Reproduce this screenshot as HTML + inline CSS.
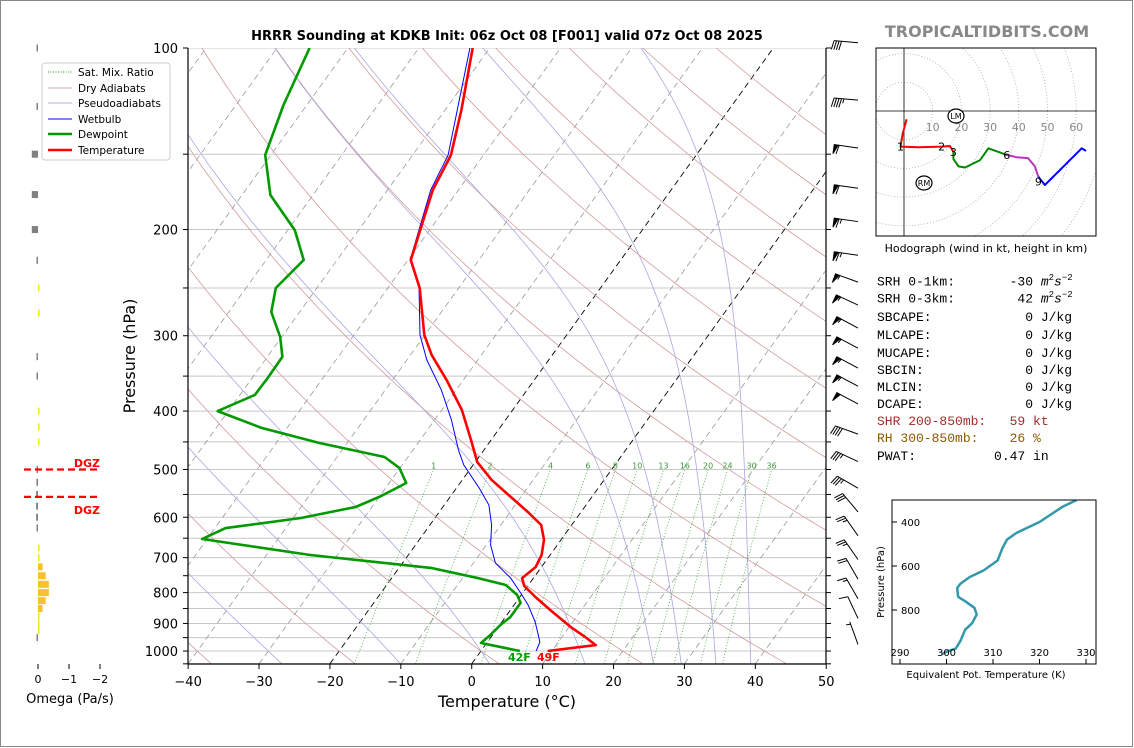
<!DOCTYPE html>
<html><head><meta charset="utf-8"><style>
body{margin:0;background:#fff;}
#fig{position:relative;width:1134px;height:748px;overflow:hidden;background:#fff;font-family:"DejaVu Sans","Liberation Sans",sans-serif;}
.t{position:absolute;white-space:pre;font-family:"Liberation Mono","DejaVu Sans Mono",monospace;font-size:13px;color:#000;}
</style></head><body>
<div id="fig">
<svg id="svg" width="1134" height="748" xmlns="http://www.w3.org/2000/svg" style="position:absolute;left:0;top:0">
<rect x="0.5" y="0.5" width="1132" height="746" fill="none" stroke="#888" stroke-width="1"/>
<defs><clipPath id="cp"><rect x="188" y="48" width="638" height="616"/></clipPath>
<clipPath id="hc"><rect x="876" y="48" width="220" height="188"/></clipPath>
<clipPath id="tc"><rect x="892" y="500" width="204" height="164"/></clipPath></defs>
<g id="bg" clip-path="url(#cp)"></g>
<g id="prof" clip-path="url(#cp)"></g>
<g id="axes"></g>
<g id="barbs"></g>
<g id="omega"></g>
<g id="hodo"></g>
<g id="the"></g>
<text x="507" y="40" text-anchor="middle" font-size="13" font-weight="bold">HRRR Sounding at KDKB Init: 06z Oct 08 [F001] valid 07z Oct 08 2025</text>
<text x="987" y="37" text-anchor="middle" font-size="16" font-weight="bold" fill="#888">TROPICALTIDBITS.COM</text>
<text x="507" y="707" text-anchor="middle" font-size="16">Temperature (°C)</text>
<text transform="translate(135,356) rotate(-90)" text-anchor="middle" font-size="16">Pressure (hPa)</text>
<text x="70" y="703" text-anchor="middle" font-size="13">Omega (Pa/s)</text>
<text x="986" y="252" text-anchor="middle" font-size="11">Hodograph (wind in kt, height in km)</text>
<text x="986" y="678" text-anchor="middle" font-size="10">Equivalent Pot. Temperature (K)</text>
<text transform="translate(884,582) rotate(-90)" text-anchor="middle" font-size="10">Pressure (hPa)</text>
<text x="508" y="661" font-size="11" font-weight="bold" fill="#00a000">42F</text>
<text x="537" y="661" font-size="11" font-weight="bold" fill="#ff0000">49F</text>
<g>
<rect x="42" y="63" width="128" height="97" rx="3" fill="#fff" stroke="#ccc"/>
<line x1="48" y1="72" x2="72" y2="72" stroke="#2ca02c" stroke-dasharray="1,1.5"/>
<text x="78" y="76" font-size="10.5">Sat. Mix. Ratio</text>
<line x1="48" y1="88" x2="72" y2="88" stroke="#d9a8a8"/>
<text x="78" y="92" font-size="10.5">Dry Adiabats</text>
<line x1="48" y1="103" x2="72" y2="103" stroke="#b0b0e8"/>
<text x="78" y="107" font-size="10.5">Pseudoadiabats</text>
<line x1="48" y1="119" x2="72" y2="119" stroke="#0000ff"/>
<text x="78" y="123" font-size="10.5">Wetbulb</text>
<line x1="48" y1="134" x2="72" y2="134" stroke="#009900" stroke-width="2.5"/>
<text x="78" y="138" font-size="10.5">Dewpoint</text>
<line x1="48" y1="150" x2="72" y2="150" stroke="#ff0000" stroke-width="2.5"/>
<text x="78" y="154" font-size="10.5">Temperature</text>
</g>
</svg>
<div class="t" style="left:877px;top:273px">SRH 0-1km:       -30 <i>m</i><sup style="font-size:9px">2</sup><i>s</i><sup style="font-size:9px">−2</sup></div>
<div class="t" style="left:877px;top:290px">SRH 0-3km:        42 <i>m</i><sup style="font-size:9px">2</sup><i>s</i><sup style="font-size:9px">−2</sup></div>
<div class="t" style="left:877px;top:310px">SBCAPE:            0 J/kg</div>
<div class="t" style="left:877px;top:328px">MLCAPE:            0 J/kg</div>
<div class="t" style="left:877px;top:346px">MUCAPE:            0 J/kg</div>
<div class="t" style="left:877px;top:363px">SBCIN:             0 J/kg</div>
<div class="t" style="left:877px;top:380px">MLCIN:             0 J/kg</div>
<div class="t" style="left:877px;top:397px">DCAPE:             0 J/kg</div>
<div class="t" style="left:877px;top:414px;color:#a52a2a">SHR 200-850mb:   59 kt</div>
<div class="t" style="left:877px;top:431px;color:#8b5a00">RH 300-850mb:    26 %</div>
<div class="t" style="left:877px;top:449px">PWAT:          0.47 in</div>
</div>
<script>
// ---- data ----
const tempP=[100,126.7,150.5,172,224.7,250,299,323,355,398,447,486,520,555.5,588,618,654,693,725.6,757,780,813.5,855,912,948,977.5,1000];
const tempC=[-62.4,-57.7,-54.6,-53.6,-49.6,-45.5,-40.1,-37.0,-32.4,-27.2,-22.8,-19.7,-15.9,-11.4,-7.5,-4.3,-2.4,-1.2,-0.8,-1.6,-0.5,2.2,5.6,10.2,13.3,15.6,9.4];
const dewP=[100,124.3,150.5,175.3,200.4,224.7,250,274,301.5,325,352.6,376,400,426.6,451.8,476.7,497,526.4,553,577,601.7,625.3,651.9,693,728,757,777,807,832,878,905.3,940.6,969.8,1000];
const dewC=[-85.4,-83.3,-80.8,-76,-69,-64.7,-65.8,-64,-60.2,-57.9,-57.8,-57.9,-61.5,-53.6,-43.9,-33.3,-30.1,-27.6,-29.8,-32.3,-38.9,-48.5,-50.7,-33.8,-15.5,-7.8,-3.2,-0.6,0.7,0.7,0.1,-0.3,-0.8,5.5];
const wbP=[100,150.5,172,224.7,250,299,329,369,414,464,491.5,536.6,572.6,618,667,714.5,757,801,839,895,966,1000];
const wbC=[-62.8,-55,-53.9,-49.7,-45.6,-40.7,-37.2,-32.1,-27.6,-23.6,-21.3,-16.8,-13.7,-11.3,-9.4,-6.9,-3.2,-0.3,2.0,4.7,7.4,7.8];
const mixRatios=[1,2,4,6,8,10,13,16,20,24,30,36];
const dryT0=[-40,-20,0,20,40,60,80,100,120,140,160,180,200];
const moistT0=[-30,-13,0,14,24,28,33,38];
const barbP=[98,122,146.5,170.8,194,220.6,244.5,266.9,291.3,314.6,339.4,363.8,389.3,436.8,485,537,588,644,705,760,819,883,975];
const barbSpd=[40,45,60,60,65,65,55,55,55,55,55,55,50,40,35,35,30,25,25,20,15,10,5];
const barbDir=[275,275,278,278,278,278,290,295,298,298,298,298,298,290,295,300,320,325,325,330,330,335,340];
const omegaP=[100,125,150,175,200,225,250,275,325,350,400,425,450,500,525,550,575,600,625,675,700,725,750,775,800,825,850,875,900,925,950];
const omegaV=[0.02,0.02,0.2,0.2,0.2,0.04,-0.03,-0.05,0.03,0.03,-0.02,-0.02,-0.01,0.03,0.05,0.06,0.06,0.06,0.02,-0.01,-0.02,-0.15,-0.25,-0.35,-0.35,-0.25,-0.15,-0.03,-0.02,-0.01,0.01];
const hodoSegColors=['#ff0000','#008800','#bb33bb','#0000ff'];
const hodoU=[[0.9,-0.5,-1.2,5,13.1,16,17.2],[17.2,17.2,19,21.3,26.5,29.4,35.8],[35.8,39.2,43.2,45.6,46.8],[46.8,49.1,61.9,63.4]];
const hodoV=[[-2.9,-8,-12.4,-12.6,-12.4,-12.2,-14.2],[-14.2,-16.7,-19.3,-19.7,-17.1,-13,-15.3],[-15.3,-16.1,-16.4,-19.3,-22.9],[-22.9,-25.8,-13,-13.9]];
const hodoLblU=[-1.2,13.1,17.2,35.8,46.8];
const hodoLblV=[-12.4,-12.4,-14.2,-15.3,-24.5];
const hodoLbls=['1','2','3','6','9'];
const thetaP=[300,330,400,450,480,520,575,620,650,680,700,740,760,790,820,860,890,940,975,990,1000];
const thetaK=[328,325,320,315,313,312,311,308,305,303,302.3,302.5,304,306,306.5,305.5,304,303,302,300,299];
const tempTicks=[-40,-30,-20,-10,0,10,20,30,40,50];
const presTicks=[100,200,300,400,500,600,700,800,900,1000];

// ---- helpers ----
const NS='http://www.w3.org/2000/svg';
function mk(parent,tag,attrs){const e=document.createElementNS(NS,tag);for(const k in attrs)e.setAttribute(k,attrs[k]);parent.appendChild(e);return e;}
const yP=p=>48+261.9*Math.log(p/100);
const xT=(T,p)=>188+(T+40)*7.09+(664-yP(p))*0.72;
function pathOf(ps,ts){return ps.map((p,i)=>(i?'L':'M')+xT(ts[i],p).toFixed(1)+' '+yP(p).toFixed(1)).join(' ');}
const bg=document.getElementById('bg'),prof=document.getElementById('prof'),ax=document.getElementById('axes');

// isobars
for(let p=100;p<=1050;p+=50){const l=mk(bg,'line',{x1:188,x2:826,y1:yP(p),y2:yP(p),stroke:'#c8c8c8','stroke-width':1});

}
// isotherms
for(let T=-120;T<=50;T+=10){const l=mk(bg,'line',{x1:xT(T,1050),y1:yP(1050),x2:xT(T,100),y2:yP(100),stroke:(T==0||T==-20)?'#000':'#999','stroke-width':(T==0||T==-20)?0.9:0.8,'stroke-dasharray':'6,4'});

}
// dry adiabats
dryT0.forEach(t0=>{const th=t0+273.15;let d='';for(let p=1050;p>=100;p-=10){const T=th*Math.pow(p/1000,0.2857)-273.15;d+=(p==1050?'M':'L')+xT(T,p).toFixed(1)+' '+yP(p).toFixed(1);}
const l=mk(bg,'path',{d:d,fill:'none',stroke:'#d49a9a','stroke-width':0.8});

});
// moist adiabats
function es(Tc){return 6.112*Math.exp(17.67*Tc/(Tc+243.5));}
function dTdp(T,p){const e=es(T-273.15);const rs=0.622*e/(p-e);return (287*T+2.5e6*rs)/(1005+2.5e6*2.5e6*rs*0.622/(287*T*T))/p;}
moistT0.forEach(t0=>{let pts=[];let T=t0+273.15;
 let Td=T;for(let p=1000;p<1050;p+=5){Td+=dTdp(Td,p)*5;}
 T=Td;for(let p=1050;p>=100;p-=5){pts.push(xT(T-273.15,p).toFixed(1)+' '+yP(p).toFixed(1));const k1=dTdp(T,p);const k2=dTdp(T-k1*2.5,p-2.5);T-=k2*5;}
 const l=mk(bg,'path',{d:'M'+pts.join(' L'),fill:'none',stroke:'#a8a8e4','stroke-width':0.8});
 
 });
// mixing ratio
function tdFromW(w,p){const e=w*p/(622+w);const a=Math.log(e/6.112);return 243.5*a/(17.67-a);}
mixRatios.forEach(w=>{let d='';for(let p=1050;p>=500;p-=10){d+=(p==1050?'M':'L')+xT(tdFromW(w,p),p).toFixed(1)+' '+yP(p).toFixed(1);}
 const l=mk(bg,'path',{d:d,fill:'none',stroke:'#2ca02c','stroke-width':0.8,'stroke-dasharray':'1,2',opacity:0.9});
 
 
 const t=mk(bg,'text',{x:xT(tdFromW(w,500),500),y:yP(500)-1,'font-size':8,fill:'#3a9a3a','text-anchor':'middle'});t.textContent=w;
 
 });
// profiles
let e;
e=mk(prof,'path',{d:pathOf(wbP,wbC),fill:'none',stroke:'#0000ff','stroke-width':1});


e=mk(prof,'path',{d:pathOf(dewP,dewC),fill:'none',stroke:'#009900','stroke-width':2.6,'stroke-linejoin':'round'});


e=mk(prof,'path',{d:pathOf(tempP,tempC),fill:'none',stroke:'#ff0000','stroke-width':2.6,'stroke-linejoin':'round'});


// axes frame
e=mk(ax,'line',{x1:188,y1:48,x2:188,y2:664,stroke:'#000','stroke-width':1.2});


e=mk(ax,'line',{x1:826,y1:48,x2:826,y2:664,stroke:'#000','stroke-width':1.2});


e=mk(ax,'line',{x1:188,y1:664,x2:826,y2:664,stroke:'#000','stroke-width':1.2});


for(let p=100;p<=1050;p+=50){const y=yP(p);mk(ax,'line',{x1:183,x2:188,y1:y,y2:y,stroke:'#000'});mk(ax,'line',{x1:826,x2:831,y1:y,y2:y,stroke:'#000'});}
presTicks.forEach(p=>{const t=mk(ax,'text',{x:178,y:yP(p)+5,'font-size':13,'text-anchor':'end'});t.textContent=p;
 
 });
tempTicks.forEach(T=>{const x=xT(T,1050);mk(ax,'line',{x1:x,x2:x,y1:664,y2:669,stroke:'#000'});
 const t=mk(ax,'text',{x:x,y:686,'font-size':13,'text-anchor':'middle'});t.textContent=(T<0?'−':'')+Math.abs(T);
 
 });
// wind barbs
const bb=document.getElementById('barbs');
barbP.forEach((p,i)=>{const g=mk(bb,'g',{stroke:'#000','stroke-width':1,fill:'#000'});
 
 
 const px=858,py=yP(p);const rad=barbDir[i]*Math.PI/180;
 const ux=Math.sin(rad),uy=-Math.cos(rad);
 const L=24,tx=px+ux*L,ty=py+uy*L;
 mk(g,'line',{x1:px,y1:py,x2:tx,y2:ty});
 const perpx=-uy,perpy=ux;
 const nx=-perpx,ny=-perpy;
 let s=barbSpd[i],pos=0;const bl=9;
 while(s>=50){const ax1=tx-ux*pos,ay1=ty-uy*pos,ax2=tx-ux*(pos+4),ay2=ty-uy*(pos+4);
  mk(g,'polygon',{points:`${ax1},${ay1} ${ax1+nx*bl},${ay1+ny*bl} ${ax2},${ay2}`});pos+=5;s-=50;}
 while(s>=10){const bx=tx-ux*pos,by=ty-uy*pos;mk(g,'line',{x1:bx,y1:by,x2:bx+nx*bl+ux*2,y2:by+ny*bl+uy*2});pos+=2.5;s-=10;}
 if(s>=5){if(pos==0)pos=2.5;const bx=tx-ux*pos,by=ty-uy*pos;mk(g,'line',{x1:bx,y1:by,x2:bx+nx*bl/2+ux,y2:by+ny*bl/2+uy});}
});
// omega
const om=document.getElementById('omega');
omegaP.forEach((p,i)=>{const v=omegaV[i];const w=Math.max(Math.abs(v)*31,1.5);const x=v>0?38-w:38;
 const col=v>0?'#808080':(v<-0.1?'#fbc02d':'#f2e41e');
 const r=mk(om,'rect',{x:x,y:yP(p)-3.5,width:w,height:7,fill:col});
 
 });
[0,-1,-2].forEach(v=>{const x=38-v*31;mk(om,'line',{x1:x,x2:x,y1:664,y2:669,stroke:'#000'});
 const t=mk(om,'text',{x:x,y:683,'font-size':11,'text-anchor':'middle'});t.textContent=v==0?'0':'−'+Math.abs(v);
 
 });
[[yP(500),463,'dgz-top'],[yP(555),510,'dgz-bottom']].forEach(a=>{mk(om,'line',{x1:24,x2:99,y1:a[0],y2:a[0],stroke:'#ff0000','stroke-width':2.2,'stroke-dasharray':'7,4'});
 const t=mk(om,'text',{x:100,y:a[1]+4,'font-size':11,'font-weight':'bold',fill:'#ff0000','text-anchor':'end'});t.textContent='DGZ';
 
 });
// hodograph
const hg=document.getElementById('hodo');const ox=904,oy=111,hs=2.87;
const hx=u=>ox+u*hs,hy=v=>oy-v*hs;
const hcl=mk(hg,'g',{'clip-path':'url(#hc)'});
for(let r=10;r<=90;r+=10){mk(hcl,'circle',{cx:ox,cy:oy,r:r*hs,fill:'none',stroke:'#aaa','stroke-width':0.8,'stroke-dasharray':'1,2'});}
mk(hcl,'line',{x1:876,x2:1096,y1:oy,y2:oy,stroke:'#000','stroke-width':0.8});
mk(hcl,'line',{x1:ox,x2:ox,y1:48,y2:236,stroke:'#000','stroke-width':0.8});
for(let r=10;r<=60;r+=10){const t=mk(hcl,'text',{x:hx(r),y:131,'font-size':11,fill:'#888','text-anchor':'middle'});t.textContent=r;}
hodoU.forEach((us,s)=>{const d=us.map((u,i)=>(i?'L':'M')+hx(u).toFixed(1)+' '+hy(hodoV[s][i]).toFixed(1)).join(' ');
 const l=mk(hcl,'path',{d:d,fill:'none',stroke:hodoSegColors[s],'stroke-width':2,'stroke-linejoin':'round'});
 
 });
hodoLbls.forEach((s,i)=>{const t=mk(hcl,'text',{x:hx(hodoLblU[i]),y:hy(hodoLblV[i])+4,'font-size':11,'text-anchor':'middle'});t.textContent=s;
 
 });
[[956,116,'LM'],[924,183,'RM']].forEach(a=>{mk(hcl,'ellipse',{cx:a[0],cy:a[1],rx:8,ry:7,fill:'#fff',stroke:'#000','stroke-width':1.2});
 const t=mk(hcl,'text',{x:a[0],y:a[1]+3,'font-size':8,'text-anchor':'middle'});t.textContent=a[2];
 
 });
mk(hg,'rect',{x:876,y:48,width:220,height:188,fill:'none',stroke:'#000','stroke-width':1});
// theta-e
const te=document.getElementById('the');
const tx_=k=>900+(k-290)*4.65,ty_=p=>522+(p-400)*0.22;
const tcl=mk(te,'g',{'clip-path':'url(#tc)'});
e=mk(tcl,'path',{d:thetaP.map((p,i)=>(i?'L':'M')+tx_(thetaK[i]).toFixed(1)+' '+ty_(p).toFixed(1)).join(' '),fill:'none',stroke:'#3399aa','stroke-width':2.5,'stroke-linejoin':'round'});


mk(te,'rect',{x:892,y:500,width:204,height:164,fill:'none',stroke:'#000','stroke-width':1});
[400,600,800].forEach(p=>{mk(te,'line',{x1:892,x2:897,y1:ty_(p),y2:ty_(p),stroke:'#000'});
 const t=mk(te,'text',{x:901,y:ty_(p)+4,'font-size':10});t.textContent=p;
 
 });
[290,300,310,320,330].forEach(k=>{mk(te,'line',{x1:tx_(k),x2:tx_(k),y1:659,y2:664,stroke:'#000'});
 const t=mk(te,'text',{x:tx_(k),y:656,'font-size':10,'text-anchor':'middle'});t.textContent=k;
 
 });
</script>
</body></html>
